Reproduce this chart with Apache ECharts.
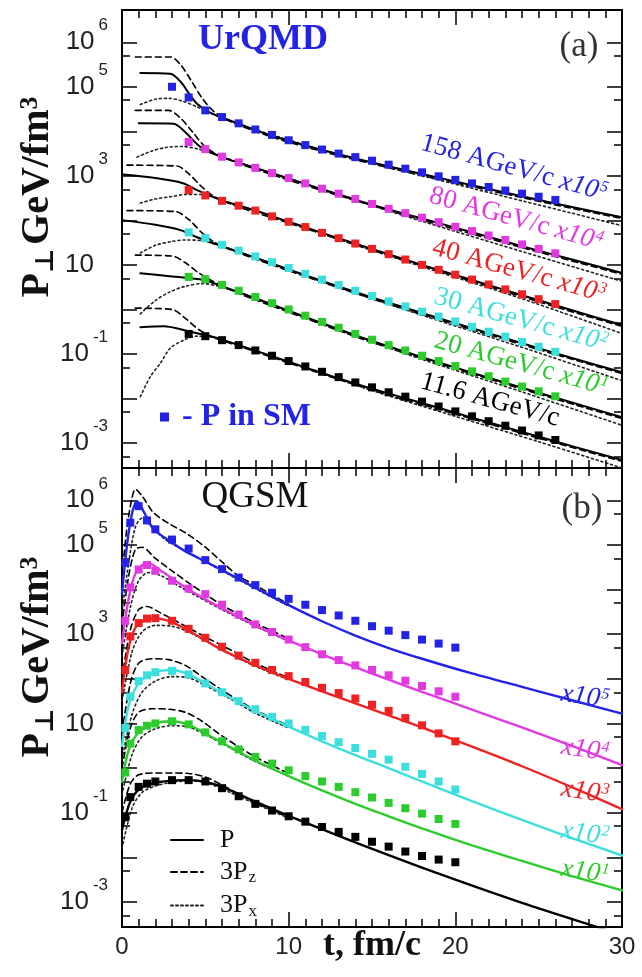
<!DOCTYPE html>
<html>
<head>
<meta charset="utf-8">
<script src="https://cdn.jsdelivr.net/npm/echarts@6/dist/echarts.min.js"></script>
<style>
  html, body { margin: 0; padding: 0; background: #fff; }
  #chart { width: 642px; height: 977px; }
</style>
</head>
<body>
<div id="chart"></div>
<script>
// ---------- fonts & colours ----------
const SERIF = '"Liberation Serif", "DejaVu Serif", serif';
const SANS = '"Liberation Sans", Arial, sans-serif';
const C158 = '#2323e8', C80 = '#e03ae0', C40 = '#ee2222', C30 = '#3ddede', C20 = '#2ccc2c', C11 = '#000000';

// ---------- axis ticks ----------
const xTickLabels = [0, 10, 20, 30];
const yDecades = [1e-3, 1e-2, 1e-1, 1, 10, 100, 1e3, 1e4, 1e5, 1e6];
const yHalfDecades = [5e-4, 5e-3, 5e-2, 0.5, 5, 50, 500, 5e3, 5e4, 5e5];
const yLabelled = [1e6, 1e5, 1e3, 10, 0.1, 0.001];

// ================= UrQMD (a) =================
// 158 AGeV/c (x10^5)
const uP158T  = [1.1, 2.9, 3.5, 4.0, 4.5, 5.2, 6.0, 7.5, 9.0, 12, 15, 18, 21, 24, 27, 30];
const uP158   = [2.04e5, 1.95e5, 1.32e5, 7.24e4, 4.17e4, 2.75e4, 2.04e4, 1.26e4, 7.94e3, 3.8e3, 2.0e3, 1.1e3, 617, 347, 200, 117];
const uPz158T = [0.8, 2.9, 3.5, 4.2, 4.8, 5.5, 6.5, 9, 12, 15, 18, 21, 24, 27, 30];
const uPz158  = [4.68e5, 4.68e5, 3.16e5, 1.29e5, 5.62e4, 2.82e4, 1.66e4, 7.41e3, 3.55e3, 1.86e3, 1.02e3, 575, 324, 186, 110];
const uPx158T = [1.1, 2.0, 2.8, 3.6, 4.5, 5.5, 7, 9, 12, 15, 18, 21, 24, 27, 30];
const uPx158  = [3.98e4, 5.25e4, 5.5e4, 4.79e4, 3.55e4, 2.4e4, 1.45e4, 8.32e3, 3.8e3, 1.91e3, 1.0e3, 525, 275, 145, 75.9];
const uSm158T = [3, 4, 5, 6, 7, 8, 9, 10, 11, 12, 13, 14, 15, 16, 17, 18, 19, 20, 21, 22, 23, 24, 25, 26];
const uSm158  = [1.0e5, 5.75e4, 2.95e4, 2.09e4, 1.51e4, 1.1e4, 8.3e3, 6.3e3, 4.9e3, 3.9e3, 3.16e3, 2.63e3, 2.19e3, 1.78e3, 1.45e3, 1.2e3, 977, 813, 676, 562, 468, 398, 339, 288];

// 80 AGeV/c (x10^4)
const uP80T  = [1.0, 3.1, 3.8, 4.7, 6, 8, 10, 12, 15, 18, 21, 24, 27, 30];
const uP80   = [1.51e4, 1.48e4, 9.5e3, 4.47e3, 2.63e3, 1.51e3, 871, 501, 224, 110, 54, 26.3, 13.2, 6.6];
const uPz80T = [0.8, 2.8, 3.5, 4.2, 5.0, 6.0, 8, 12, 18, 24, 30];
const uPz80  = [2.95e4, 2.95e4, 2.0e4, 1.0e4, 4.47e3, 2.69e3, 1.41e3, 468, 102, 24.5, 6.17];
const uPx80T = [0.9, 1.8, 2.7, 3.6, 4.6, 5.5, 7, 10, 14, 18, 24, 30];
const uPx80  = [2.63e3, 3.63e3, 4.37e3, 4.57e3, 3.98e3, 3.16e3, 2.0e3, 871, 282, 95.5, 20, 4.27];
const uSm80T = [4, 5, 6, 7, 8, 9, 10, 11, 12, 13, 14, 15, 16, 17, 18, 19, 20, 21, 22, 23, 24, 25, 26];
const uSm80  = [5.75e3, 3.98e3, 2.69e3, 2.0e3, 1.51e3, 1.15e3, 891, 676, 513, 398, 302, 234, 182, 145, 115, 91, 72, 57.5, 45.7, 36.3, 28.8, 22.9, 18.2];

// 40 AGeV/c (x10^3)
const uP40T  = [0.1, 2.0, 3.7, 4.5, 6, 8, 10, 12, 15, 18, 21, 24, 27, 30];
const uP40   = [1.07e3, 891, 676, 479, 282, 166, 93.3, 52.5, 22.9, 10, 4.57, 2.09, 0.955, 0.447];
const uPz40T = [0.3, 3.3, 4.0, 4.8, 5.6, 7, 10, 15, 20, 25, 30];
const uPz40  = [1.74e3, 1.66e3, 1.12e3, 562, 331, 200, 87.1, 21.4, 5.62, 1.48, 0.417];
const uPx40T = [1.1, 2.0, 2.9, 3.8, 4.8, 6, 8, 12, 18, 24, 30];
const uPx40  = [245, 302, 339, 380, 380, 282, 166, 50.1, 9.12, 1.74, 0.288];
const uSm40T = [4, 5, 6, 7, 8, 9, 10, 11, 12, 13, 14, 15, 16, 17, 18, 19, 20, 21, 22, 23, 24, 25, 26];
const uSm40  = [479, 363, 275, 214, 166, 123, 93, 70.8, 52.5, 39.8, 30.2, 22.9, 17.4, 13.2, 10, 7.76, 6.03, 4.68, 3.63, 2.82, 2.19, 1.7, 1.32];

// 30 AGeV/c (x10^2)
const uP30T  = [0.1, 2.0, 3.5, 4.5, 6, 8, 10, 12, 15, 18, 21, 24, 27, 30];
const uP30   = [100, 79.4, 60.3, 41.7, 26.3, 14.5, 7.94, 4.37, 1.86, 0.832, 0.38, 0.174, 0.0813, 0.0389];
const uPz30T = [0.3, 3.2, 4.0, 4.8, 5.6, 7, 10, 15, 20, 25, 30];
const uPz30  = [166, 158, 105, 52.5, 31.6, 18.6, 7.41, 1.74, 0.457, 0.126, 0.0363];
const uPx30T = [1.1, 2.0, 2.9, 3.8, 4.8, 6, 8, 12, 18, 24, 30];
const uPx30  = [18.6, 27.5, 33.1, 36.3, 34.7, 26.3, 14.5, 4.17, 0.741, 0.141, 0.0251];
const uSm30T = [4, 5, 6, 7, 8, 9, 10, 11, 12, 13, 14, 15, 16, 17, 18, 19, 20, 21, 22, 23, 24, 25, 26];
const uSm30  = [53.7, 39.8, 28.2, 20.9, 15.5, 11.5, 8.51, 6.31, 4.68, 3.55, 2.63, 2.0, 1.51, 1.17, 0.891, 0.692, 0.537, 0.407, 0.316, 0.245, 0.186, 0.145, 0.112];

// 20 AGeV/c (x10^1)
const uP20T  = [1.1, 3.0, 4.9, 6, 8, 10, 12, 15, 18, 21, 24, 27, 30];
const uP20   = [6.46, 5.5, 4.57, 3.31, 1.78, 0.933, 0.49, 0.195, 0.0851, 0.038, 0.0174, 0.00813, 0.0038];
const uPz20T = [0.8, 3.0, 3.8, 4.6, 5.5, 7, 10, 15, 20, 25, 30];
const uPz20  = [16.6, 15.8, 11.2, 6.61, 4.17, 2.29, 0.871, 0.182, 0.0468, 0.0126, 0.00355];
const uPx20T = [1.1, 2.0, 2.9, 3.8, 4.8, 6, 8, 12, 18, 24, 30];
const uPx20  = [0.794, 1.58, 2.51, 3.31, 3.8, 3.16, 1.74, 0.468, 0.0759, 0.0141, 0.00251];
const uSm20T = [4, 5, 6, 7, 8, 9, 10, 11, 12, 13, 14, 15, 16, 17, 18, 19, 20, 21, 22, 23, 24, 25, 26];
const uSm20  = [5.37, 4.79, 3.55, 2.63, 1.91, 1.38, 1.0, 0.724, 0.525, 0.389, 0.282, 0.209, 0.158, 0.12, 0.0912, 0.0692, 0.0537, 0.0407, 0.0316, 0.024, 0.0186, 0.0145, 0.0112];

// 11.6 AGeV/c
const uP11T  = [1.1, 2.5, 4.1, 5.5, 7, 9, 11, 13, 15, 18, 21, 24, 27, 30];
const uP11   = [0.398, 0.417, 0.316, 0.24, 0.158, 0.0891, 0.0501, 0.0282, 0.0166, 0.00794, 0.00372, 0.00178, 0.000851, 0.000417];
const uPz11T = [0.8, 3.0, 3.8, 4.6, 5.5, 7, 10, 15, 20, 25, 30];
const uPz11  = [1.07, 1.0, 0.631, 0.355, 0.234, 0.151, 0.0631, 0.0155, 0.00447, 0.00129, 0.000389];
const uPx11T = [1.1, 1.7, 2.3, 2.9, 3.7, 4.5, 5.5, 7, 10, 15, 20, 25, 30];
const uPx11  = [0.011, 0.0309, 0.0617, 0.135, 0.204, 0.251, 0.234, 0.158, 0.0661, 0.0151, 0.00398, 0.00107, 0.000275];
const uSm11T = [4, 5, 6, 7, 8, 9, 10, 11, 12, 13, 14, 15, 16, 17, 18, 19, 20, 21, 22, 23, 24, 25, 26];
const uSm11  = [0.282, 0.251, 0.204, 0.158, 0.12, 0.0912, 0.0692, 0.0525, 0.0398, 0.0302, 0.0229, 0.0178, 0.0138, 0.011, 0.00851, 0.00661, 0.00513, 0.00398, 0.00309, 0.00245, 0.00191, 0.00148, 0.00117];

// ================= QGSM (b) =================
const qSmT = [0.2, 0.5, 1, 1.5, 2, 3, 4, 5, 6, 7, 8, 9, 10, 11, 12, 13, 14, 15, 16, 17, 18, 19, 20];

// 158 AGeV/c (x10^5)
const qP158T  = [0, 0.3, 0.6, 0.9, 1.3, 1.9, 2.9, 3.9, 5, 6, 8, 10, 12, 14, 16, 18, 21, 24, 27, 30];
const qP158   = [7.9e3, 1.0e5, 5.0e5, 9.5e5, 5.6e5, 2.24e5, 1.2e5, 6.9e4, 4.27e4, 2.75e4, 1.1e4, 4.47e3, 1.95e3, 933, 490, 282, 132, 66, 33.1, 16.6];
const qPz158T = [0, 0.3, 0.6, 0.8, 1.2, 1.9, 2.9, 3.9, 5, 6, 7, 8, 10];
const qPz158  = [2.0e4, 2.5e5, 1.12e6, 1.78e6, 1.26e6, 5.25e5, 2.88e5, 1.78e5, 8.9e4, 4.17e4, 2.0e4, 1.26e4, 4.68e3];
const qPx158T = [0, 0.4, 0.8, 1.2, 1.8, 2.6, 3.5, 4.5, 6, 8, 10];
const qPx158  = [3.16e3, 3.98e4, 2.5e5, 3.98e5, 2.5e5, 1.32e5, 8.3e4, 5.25e4, 2.63e4, 1.05e4, 4.27e3];
const qSm158  = [3.98e4, 3.16e5, 7.4e5, 3.55e5, 2.24e5, 1.32e5, 8.3e4, 4.57e4, 2.88e4, 1.86e4, 1.26e4, 8.5e3, 6.2e3, 4.57e3, 3.47e3, 2.63e3, 2.0e3, 1.51e3, 1.2e3, 955, 759, 617, 501];

// 80 AGeV/c (x10^4)
const qP80T  = [0, 0.4, 0.8, 1.5, 2.5, 3.9, 5, 6, 8, 10, 12, 14, 16, 18, 21, 24, 27, 30];
const qP80   = [631, 6.31e3, 2.24e4, 3.98e4, 2.4e4, 1.05e4, 6.03e3, 3.8e3, 1.58e3, 724, 355, 182, 95.5, 51.3, 20.4, 8.13, 3.16, 1.17];
const qPz80T = [0, 0.4, 0.8, 1.2, 2.0, 3.0, 4.0, 5, 6, 7, 8, 10];
const qPz80  = [1.58e3, 2.0e4, 7.9e4, 8.9e4, 5.0e4, 2.63e4, 1.41e4, 7.9e3, 4.47e3, 2.82e3, 1.78e3, 794];
const qPx80T = [0, 0.5, 1.0, 1.6, 2.4, 3.4, 4.5, 6, 8, 10];
const qPx80  = [316, 3.98e3, 1.58e4, 2.4e4, 2.0e4, 1.2e4, 7.1e3, 3.55e3, 1.51e3, 692];
const qSm80  = [2.0e3, 1.12e4, 2.82e4, 3.55e4, 2.63e4, 1.58e4, 1.05e4, 7.9e3, 4.57e3, 2.75e3, 1.66e3, 1.12e3, 759, 513, 355, 263, 200, 158, 120, 91, 69, 52.5, 39.8];

// 40 AGeV/c (x10^3)
const qP40T  = [0, 0.4, 0.9, 1.9, 2.8, 3.9, 5, 6, 8, 10, 12, 14, 16, 18, 21, 24, 27, 30];
const qP40   = [50, 501, 1.58e3, 2.29e3, 2.0e3, 1.26e3, 724, 447, 200, 100, 52.5, 28.2, 15.1, 8.13, 3.02, 1.1, 0.372, 0.12];
const qPz40T = [0, 0.5, 1.0, 1.5, 2.2, 3.2, 4.2, 5.2, 6.5, 8, 10];
const qPz40  = [100, 1.26e3, 3.55e3, 4.17e3, 3.16e3, 2.0e3, 1.26e3, 794, 447, 224, 105];
const qPx40T = [0, 0.6, 1.2, 2.0, 3.0, 4.0, 5.0, 6.5, 8, 10];
const qPx40  = [31.6, 398, 1.12e3, 1.58e3, 1.51e3, 1.12e3, 708, 355, 191, 95];
const qSm40  = [158, 891, 1.78e3, 2.24e3, 2.29e3, 2.0e3, 1.32e3, 832, 525, 331, 229, 158, 115, 85, 63, 47.9, 36.3, 26.3, 19.1, 13.2, 9.1, 6.0, 3.98];

// 30 AGeV/c (x10^2)
const qP30T  = [0, 0.4, 1.0, 2.0, 3.0, 4.0, 5, 6, 8, 10, 12, 14, 16, 18, 21, 24, 27, 30];
const qP30   = [3.16, 25.1, 79, 141, 158, 126, 79, 47.9, 19.1, 8.5, 3.98, 1.95, 1.0, 0.501, 0.182, 0.0692, 0.0269, 0.011];
const qPz30T = [0, 0.5, 1.0, 1.8, 2.8, 3.8, 4.8, 6, 8, 10];
const qPz30  = [6.3, 79, 224, 282, 269, 200, 112, 56, 20, 8.9];
const qPx30T = [0, 0.6, 1.2, 2.0, 3.0, 4.0, 5.0, 6.5, 8, 10];
const qPx30  = [1.58, 15.8, 50, 89, 112, 105, 70.8, 35.5, 17, 7.9];
const qSm30  = [7.9, 39.8, 89, 120, 141, 151, 126, 79, 50, 31.6, 20.9, 14.1, 10, 7.2, 5.25, 3.8, 2.82, 2.09, 1.55, 1.07, 0.741, 0.501, 0.331];

// 20 AGeV/c (x10^1)
const qP20T  = [0, 0.4, 1.0, 2.0, 3.0, 4.0, 5, 6, 8, 10, 12, 14, 16, 18, 21, 24, 27, 30];
const qP20   = [0.501, 2.51, 6.31, 10, 11.2, 9.33, 6.03, 3.72, 1.48, 0.661, 0.316, 0.158, 0.0832, 0.0447, 0.0186, 0.00832, 0.0038, 0.00182];
const qPz20T = [0, 0.5, 1.0, 1.8, 2.8, 3.8, 4.8, 6, 8, 10];
const qPz20  = [1.0, 7.9, 17.8, 21.4, 20.9, 17.8, 11.2, 5.25, 1.78, 0.759];
const qPx20T = [0, 0.6, 1.2, 2.0, 3.0, 4.0, 5.0, 6.5, 8, 10];
const qPx20  = [0.251, 2.0, 5.01, 7.59, 8.91, 8.32, 5.62, 2.82, 1.41, 0.661];
const qSm20  = [0.794, 3.55, 7.1, 8.9, 10, 11.2, 9.55, 6.31, 3.98, 2.63, 1.78, 1.26, 0.891, 0.661, 0.501, 0.38, 0.288, 0.219, 0.166, 0.126, 0.0955, 0.0724, 0.0562];

// 11.6 AGeV/c
const qP11T  = [0, 0.5, 1.1, 2, 3, 4.1, 5, 6, 8, 10, 13, 16, 20, 24, 28, 30];
const qP11   = [0.0407, 0.178, 0.355, 0.468, 0.525, 0.537, 0.49, 0.38, 0.178, 0.0851, 0.0302, 0.0112, 0.00316, 0.000955, 0.000316, 0.000186];
const qPz11T = [0, 0.5, 1.0, 2, 3, 4, 5, 6, 7, 8, 10];
const qPz11  = [0.1, 0.447, 0.708, 0.776, 0.776, 0.759, 0.631, 0.417, 0.263, 0.166, 0.0794];
const qPx11T = [0, 0.6, 1.2, 2, 3, 4, 5, 6.5, 8, 10];
const qPx11  = [0.0158, 0.126, 0.282, 0.398, 0.479, 0.513, 0.479, 0.282, 0.158, 0.0759];
const qSm11  = [0.0794, 0.224, 0.38, 0.447, 0.501, 0.537, 0.537, 0.501, 0.355, 0.234, 0.158, 0.112, 0.0832, 0.0631, 0.0479, 0.0372, 0.0288, 0.0224, 0.0174, 0.0135, 0.0107, 0.00891, 0.00776];

// ---------- helpers ----------
const pairs = (ts, vs) => ts.map((t, i) => [t, vs[i]]);
const DASH = [6, 4];
const DOT = [2, 3];

function curve(name, grid, ts, vs, color, type, width, z) {
  return {
    type: 'line', name, xAxisIndex: grid * 2, yAxisIndex: grid * 4,
    data: pairs(ts, vs), smooth: 0.3, symbol: 'none',
    lineStyle: { color, width, type, cap: 'round' }, itemStyle: { color },
    z, silent: true, animation: false
  };
}
function squares(grid, ts, vs, color, size) {
  return {
    type: 'scatter', name: 'P in SM', xAxisIndex: grid * 2, yAxisIndex: grid * 4,
    data: pairs(ts, vs), symbol: 'rect', symbolSize: size,
    itemStyle: { color, opacity: 1 }, z: 5, silent: true, animation: false
  };
}

const series = [];
// UrQMD: black model curves, coloured statistical-model points
[
  [uP158T, uP158, uPz158T, uPz158, uPx158T, uPx158, uSm158T, uSm158, C158],
  [uP80T, uP80, uPz80T, uPz80, uPx80T, uPx80, uSm80T, uSm80, C80],
  [uP40T, uP40, uPz40T, uPz40, uPx40T, uPx40, uSm40T, uSm40, C40],
  [uP30T, uP30, uPz30T, uPz30, uPx30T, uPx30, uSm30T, uSm30, C30],
  [uP20T, uP20, uPz20T, uPz20, uPx20T, uPx20, uSm20T, uSm20, C20],
  [uP11T, uP11, uPz11T, uPz11, uPx11T, uPx11, uSm11T, uSm11, C11]
].forEach(s => {
  series.push(curve('P', 0, s[0], s[1], '#000', 'solid', 2, 3));
  series.push(curve('3Pz', 0, s[2], s[3], '#000', DASH, 1.6, 2));
  series.push(curve('3Px', 0, s[4], s[5], '#222', DOT, 1.6, 2));
  series.push(squares(0, s[6], s[7], s[8], 8));
});
// QGSM: coloured P, black anisotropic components
[
  [qP158T, qP158, qPz158T, qPz158, qPx158T, qPx158, qSm158, C158],
  [qP80T, qP80, qPz80T, qPz80, qPx80T, qPx80, qSm80, C80],
  [qP40T, qP40, qPz40T, qPz40, qPx40T, qPx40, qSm40, C40],
  [qP30T, qP30, qPz30T, qPz30, qPx30T, qPx30, qSm30, C30],
  [qP20T, qP20, qPz20T, qPz20, qPx20T, qPx20, qSm20, C20],
  [qP11T, qP11, qPz11T, qPz11, qPx11T, qPx11, qSm11, C11]
].forEach(s => {
  series.push(curve('3Pz', 1, s[2], s[3], '#000', DASH, 1.6, 2));
  series.push(curve('3Px', 1, s[4], s[5], '#222', DOT, 1.6, 2));
  series.push(curve('P', 1, s[0], s[1], s[7], 'solid', 2.4, 3));
  series.push(squares(1, qSmT, s[6], s[7], 8));
});

// ---------- axes ----------
const AX = { color: '#000', width: 2 };
const TK = { color: '#000', width: 1.5 };
function xAxisFor(grid, position, withLabels) {
  return {
    type: 'value', gridIndex: grid, position, min: 0, max: 30, interval: 10,
    axisLine: { show: true, onZero: false, lineStyle: AX },
    axisTick: { show: true, inside: true, length: 15, lineStyle: TK },
    minorTick: { show: true, splitNumber: 10, length: 8, lineStyle: TK },
    splitLine: { show: false }, minorSplitLine: { show: false },
    axisLabel: withLabels ? {
      show: true, customValues: xTickLabels, margin: 8,
      fontFamily: SANS, fontSize: 24, color: '#222'
    } : { show: false },
    name: withLabels ? 't, fm/c' : '', nameLocation: 'middle', nameGap: 1,
    nameMoveOverlap: false,
    nameTextStyle: { fontFamily: SERIF, fontSize: 36, fontWeight: 'bold', color: '#111' }
  };
}
const Y_MIN = 2.75e-4, Y_MAX = 5.3e6;
function yLabel(v) {
  const e = Math.round(Math.log10(v));
  return e === 1 ? '{b|10}{g|}' : '{b|10}{s|' + e + '}';
}
function yAxisFor(grid, position, major, withLabels) {
  return {
    type: 'log', logBase: 10, gridIndex: grid, position, min: Y_MIN, max: Y_MAX,
    axisLine: { show: major, onZero: false, lineStyle: AX },
    axisTick: { show: true, inside: true, length: major ? 15 : 8,
                customValues: major ? yDecades : yHalfDecades, lineStyle: TK },
    minorTick: { show: false },
    splitLine: { show: false },
    axisLabel: withLabels ? {
      show: true, customValues: yLabelled, formatter: yLabel, margin: 14,
      padding: [0, 0, 12, 0], color: '#222',
      rich: {
        b: { fontFamily: SANS, fontSize: 26, lineHeight: 38, padding: [12, 0, 0, 0], verticalAlign: 'bottom', color: '#222' },
        s: { fontFamily: SANS, fontSize: 17, lineHeight: 17, padding: [0, 0, 0, 4], verticalAlign: 'top', color: '#222' },
        g: { width: 14 }
      }
    } : { show: false }
  };
}

// ---------- texts ----------
const titleRich = {
  p: { fontFamily: SERIF, fontSize: 40, fontWeight: 'bold', fill: '#111' },
  s: { fontFamily: SERIF, fontSize: 26, fontWeight: 'bold', fill: '#111', verticalAlign: 'bottom', padding: [16, 0, 0, 0] },
  u: { fontFamily: SERIF, fontSize: 26, fontWeight: 'bold', fill: '#111', verticalAlign: 'top', padding: [0, 0, 16, 0] }
};
function yTitle(x, y) {
  return {
    type: 'text', x, y, rotation: Math.PI / 2, z: 10,
    style: { text: '{p|P}{s|\u22a5} {p|GeV/fm}{u|3}', rich: titleRich, align: 'center', verticalAlign: 'middle' }
  };
}
function tag(text, x, y, color, size, weight) {
  return { type: 'text', x, y, z: 10,
    style: { text, fill: color, fontFamily: SERIF, fontSize: size, fontWeight: weight, align: 'center', verticalAlign: 'middle' } };
}
function curveLabel(text, x, y, color, rot) {
  return {
    type: 'text', x, y, rotation: rot, z: 10,
    style: {
      text, fill: color, align: 'center', verticalAlign: 'middle',
      rich: {
        n: { fontFamily: SERIF, fontSize: 27, fill: color },
        i: { fontFamily: SERIF, fontSize: 27, fontStyle: 'italic', fill: color },
        e: { fontFamily: SERIF, fontSize: 16, fontStyle: 'italic', fill: color, verticalAlign: 'top', padding: [0, 0, 10, 1] }
      }
    }
  };
}
const ROT = -0.27;

const option = {
  backgroundColor: '#fff',
  animation: false,
  grid: [
    { left: 122, top: 10, width: 500, height: 458 },
    { left: 122, top: 468, width: 500, height: 459 }
  ],
  xAxis: [
    xAxisFor(0, 'bottom', false), xAxisFor(0, 'top', false),
    xAxisFor(1, 'bottom', true), xAxisFor(1, 'top', false)
  ],
  yAxis: [
    yAxisFor(0, 'left', true, true), yAxisFor(0, 'left', false, false),
    yAxisFor(0, 'right', true, false), yAxisFor(0, 'right', false, false),
    yAxisFor(1, 'left', true, true), yAxisFor(1, 'left', false, false),
    yAxisFor(1, 'right', true, false), yAxisFor(1, 'right', false, false)
  ],
  legend: [
    {
      data: ['P', '3Pz', '3Px'], orient: 'vertical', left: 165, top: 822,
      itemWidth: 32, itemHeight: 12, itemGap: 6, selectedMode: false,
      itemStyle: { color: 'rgba(0,0,0,0)', borderWidth: 0, borderColor: 'rgba(0,0,0,0)' },
      formatter: n => n === 'P' ? '{n|P}' : '{n|3P}{b|' + n.slice(2) + '}',
      textStyle: {
        color: '#111',
        rich: {
          n: { fontFamily: SERIF, fontSize: 26, color: '#111', lineHeight: 26, padding: [0, 0, 0, 12] },
          b: { fontFamily: SERIF, fontSize: 17, color: '#111', verticalAlign: 'bottom', padding: [12, 0, 0, 1] }
        }
      }
    },
    {
      data: [{ name: 'P in SM', icon: 'rect' }], left: 155, top: 396,
      itemWidth: 9, itemHeight: 9, itemGap: 8, selectedMode: false,
      formatter: () => ' - P in SM',
      textStyle: { fontFamily: SERIF, fontSize: 32, fontWeight: 'bold', color: C158 }
    }
  ],
  graphic: [
    yTitle(38, 197), yTitle(38, 657),
    tag('UrQMD', 263, 40, C158, 36, 'bold'),
    tag('(a)', 579, 47, '#333', 35, 'normal'),
    tag('QGSM', 255, 497, '#111', 37, 'normal'),
    tag('(b)', 582, 509, '#333', 35, 'normal'),
    curveLabel('{n|158 AGeV/c }{i|x10}{e|5}', 514, 168, C158, ROT),
    curveLabel('{n|80 AGeV/c }{i|x10}{e|4}', 516, 219, C80, ROT),
    curveLabel('{n|40 AGeV/c }{i|x10}{e|3}', 519, 271, C40, ROT),
    curveLabel('{n|30 AGeV/c }{i|x10}{e|2}', 521, 320, C30, ROT),
    curveLabel('{n|20 AGeV/c }{i|x10}{e|1}', 521, 364, C20, ROT),
    curveLabel('{n|11.6 AGeV/c}', 490, 400, C11, ROT),
    curveLabel('{i|x10}{e|5}', 585, 697, C158, -0.15),
    curveLabel('{i|x10}{e|4}', 585, 750, C80, -0.15),
    curveLabel('{i|x10}{e|3}', 585, 792, C40, -0.15),
    curveLabel('{i|x10}{e|2}', 585, 834, C30, -0.15),
    curveLabel('{i|x10}{e|1}', 585, 872, C20, -0.15)
  ],
  series
};

const chart = echarts.init(document.getElementById('chart'), null, { renderer: 'canvas' });
chart.setOption(option);
</script>
</body>
</html>
